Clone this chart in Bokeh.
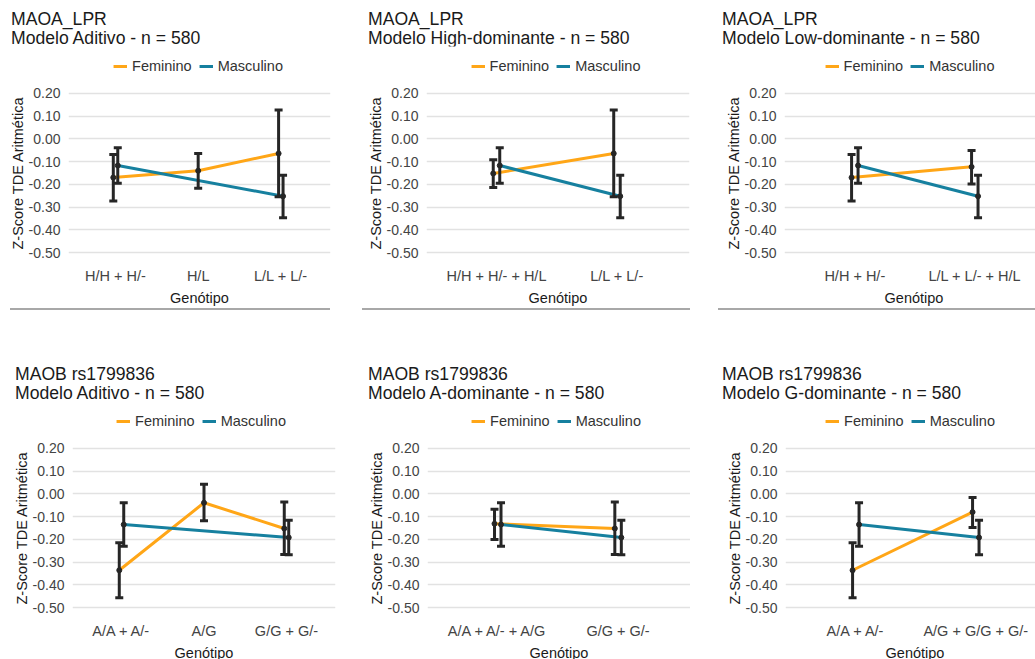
from bokeh.plotting import figure
from bokeh.models import (Range1d, FixedTicker, PrintfTickFormatter, Legend,
                          LegendItem, Div)
from bokeh.layouts import row, column
from bokeh.embed import file_html
from bokeh.resources import INLINE

# ---------------------------------------------------------------- data
y_ticks = [0.20, 0.10, 0.00, -0.10, -0.20, -0.30, -0.40, -0.50]
y_title = "Z-Score TDE Aritmética"
x_title = "Genótipo"
sexos = ["Feminino", "Masculino"]

# MAOA_LPR - modelo aditivo
maoa_adit_gen = ["H/H + H/-", "H/L", "L/L + L/-"]
maoa_adit_fem_media = [-0.170, -0.140, -0.064]
maoa_adit_fem_inf = [-0.273, -0.217, -0.255]
maoa_adit_fem_sup = [-0.069, -0.064, 0.127]
maoa_adit_masc_gen = ["H/H + H/-", "L/L + L/-"]
maoa_adit_masc_media = [-0.117, -0.252]
maoa_adit_masc_inf = [-0.195, -0.347]
maoa_adit_masc_sup = [-0.039, -0.160]

# MAOA_LPR - modelo high-dominante
maoa_high_gen = ["H/H + H/- + H/L", "L/L + L/-"]
maoa_high_fem_media = [-0.152, -0.064]
maoa_high_fem_inf = [-0.214, -0.255]
maoa_high_fem_sup = [-0.092, 0.127]
maoa_high_masc_gen = ["H/H + H/- + H/L", "L/L + L/-"]
maoa_high_masc_media = [-0.117, -0.252]
maoa_high_masc_inf = [-0.195, -0.347]
maoa_high_masc_sup = [-0.039, -0.160]

# MAOA_LPR - modelo low-dominante
maoa_low_gen = ["H/H + H/-", "L/L + L/- + H/L"]
maoa_low_fem_media = [-0.170, -0.123]
maoa_low_fem_inf = [-0.273, -0.198]
maoa_low_fem_sup = [-0.069, -0.051]
maoa_low_masc_gen = ["H/H + H/-", "L/L + L/- + H/L"]
maoa_low_masc_media = [-0.117, -0.252]
maoa_low_masc_inf = [-0.195, -0.347]
maoa_low_masc_sup = [-0.039, -0.160]

# MAOB rs1799836 - modelo aditivo
maob_adit_gen = ["A/A + A/-", "A/G", "G/G + G/-"]
maob_adit_fem_media = [-0.336, -0.039, -0.152]
maob_adit_fem_inf = [-0.457, -0.118, -0.267]
maob_adit_fem_sup = [-0.215, 0.043, -0.036]
maob_adit_masc_gen = ["A/A + A/-", "G/G + G/-"]
maob_adit_masc_media = [-0.135, -0.192]
maob_adit_masc_inf = [-0.230, -0.268]
maob_adit_masc_sup = [-0.039, -0.116]

# MAOB rs1799836 - modelo A-dominante
maob_adom_gen = ["A/A + A/- + A/G", "G/G + G/-"]
maob_adom_fem_media = [-0.131, -0.152]
maob_adom_fem_inf = [-0.201, -0.267]
maob_adom_fem_sup = [-0.067, -0.036]
maob_adom_masc_gen = ["A/A + A/- + A/G", "G/G + G/-"]
maob_adom_masc_media = [-0.135, -0.192]
maob_adom_masc_inf = [-0.230, -0.268]
maob_adom_masc_sup = [-0.039, -0.116]

# MAOB rs1799836 - modelo G-dominante
maob_gdom_gen = ["A/A + A/-", "A/G + G/G + G/-"]
maob_gdom_fem_media = [-0.336, -0.080]
maob_gdom_fem_inf = [-0.457, -0.148]
maob_gdom_fem_sup = [-0.215, -0.016]
maob_gdom_masc_gen = ["A/A + A/-", "A/G + G/G + G/-"]
maob_gdom_masc_media = [-0.135, -0.192]
maob_gdom_masc_inf = [-0.230, -0.268]
maob_gdom_masc_sup = [-0.039, -0.116]

paineis = [
    dict(gene="MAOA_LPR", modelo="Modelo Aditivo - n = 580", gen=maoa_adit_gen,
         fem=(maoa_adit_fem_media, maoa_adit_fem_inf, maoa_adit_fem_sup),
         masc_gen=maoa_adit_masc_gen,
         masc=(maoa_adit_masc_media, maoa_adit_masc_inf, maoa_adit_masc_sup)),
    dict(gene="MAOA_LPR", modelo="Modelo High-dominante - n = 580", gen=maoa_high_gen,
         fem=(maoa_high_fem_media, maoa_high_fem_inf, maoa_high_fem_sup),
         masc_gen=maoa_high_masc_gen,
         masc=(maoa_high_masc_media, maoa_high_masc_inf, maoa_high_masc_sup)),
    dict(gene="MAOA_LPR", modelo="Modelo Low-dominante - n = 580", gen=maoa_low_gen,
         fem=(maoa_low_fem_media, maoa_low_fem_inf, maoa_low_fem_sup),
         masc_gen=maoa_low_masc_gen,
         masc=(maoa_low_masc_media, maoa_low_masc_inf, maoa_low_masc_sup)),
    dict(gene="MAOB rs1799836", modelo="Modelo Aditivo - n = 580", gen=maob_adit_gen,
         fem=(maob_adit_fem_media, maob_adit_fem_inf, maob_adit_fem_sup),
         masc_gen=maob_adit_masc_gen,
         masc=(maob_adit_masc_media, maob_adit_masc_inf, maob_adit_masc_sup)),
    dict(gene="MAOB rs1799836", modelo="Modelo A-dominante - n = 580", gen=maob_adom_gen,
         fem=(maob_adom_fem_media, maob_adom_fem_inf, maob_adom_fem_sup),
         masc_gen=maob_adom_masc_gen,
         masc=(maob_adom_masc_media, maob_adom_masc_inf, maob_adom_masc_sup)),
    dict(gene="MAOB rs1799836", modelo="Modelo G-dominante - n = 580", gen=maob_gdom_gen,
         fem=(maob_gdom_fem_media, maob_gdom_fem_inf, maob_gdom_fem_sup),
         masc_gen=maob_gdom_masc_gen,
         masc=(maob_gdom_masc_media, maob_gdom_masc_inf, maob_gdom_masc_sup)),
]

# ---------------------------------------------------------------- style
FONT = "Liberation Sans"
COR_FEM = "#FFA617"
COR_MASC = "#16809F"
COR_BARRA = "#262626"
COR_GRADE = "#E2E2E2"
DODGE = 0.027

# frame placement of each panel (left, right in px, x range, legend shift)
geometria = [
    dict(fl=66, fr=328, x0=0.431, x1=3.601, tx=11, ls=2, sep=(10, 320)),
    dict(fl=77, fr=340, x0=0.419, x1=2.602, tx=23, ls=4, sep=(17, 328)),
    dict(fl=86, fr=345, x0=0.414, x1=2.5725, tx=32, ls=8, sep=(28, 317)),
    dict(fl=67, fr=330, x0=0.406, x1=3.594, tx=15, ls=5),
    dict(fl=77, fr=340, x0=0.416, x1=2.602, tx=23, ls=5),
    dict(fl=86, fr=345, x0=0.414, x1=2.5725, tx=32, ls=9),
]

LARG = 345
CAB = 46          # two-line heading
LEG_H = 39        # legend strip between heading and chart
FRAME_H = 175


def cabecalho(d, g):
    html = ('<div style="font-family:\'%s\';font-size:17.6px;line-height:19px;'
            'color:#1a1a1a;padding:10px 0 0 %dpx;white-space:nowrap">%s<br>%s</div>'
            % (FONT, g["tx"], d["gene"], d["modelo"]))
    return Div(text=html, width=LARG, height=CAB, margin=0)


def legenda(d, g):
    # strip whose frame spans the chart frame; the series sit outside its
    # ranges, so only the legend entries show
    q = figure(width=LARG, height=LEG_H, title=None,
               x_range=Range1d(10, 11), y_range=Range1d(10, 11),
               x_axis_type=None, y_axis_type=None,
               min_border_left=g["fl"] + g["ls"], min_border_right=LARG - g["fr"],
               min_border_top=0, min_border_bottom=0,
               output_backend="svg", toolbar_location=None)
    q.outline_line_color = None
    q.background_fill_color = "white"
    q.border_fill_color = "white"
    gen = d["gen"]
    rf = q.line(list(range(1, len(gen) + 1)), d["fem"][0],
                line_color=COR_FEM, line_width=3)
    rm = q.line([gen.index(k) + 1 for k in d["masc_gen"]], d["masc"][0],
                line_color=COR_MASC, line_width=3)
    leg = Legend(items=[LegendItem(label=sexos[0], renderers=[rf]),
                        LegendItem(label=sexos[1], renderers=[rm])],
                 orientation="horizontal", location="center",
                 glyph_width=14, glyph_height=20, label_height=20,
                 label_standoff=5, spacing=7, padding=0, margin=0,
                 border_line_color=None, background_fill_alpha=0,
                 label_text_font=FONT, label_text_font_size="14.5px",
                 label_text_color="#333333")
    q.add_layout(leg)
    return q


def painel(d, g, borda_inf):
    p = figure(frame_width=g["fr"] - g["fl"], frame_height=FRAME_H, title=None,
               x_range=Range1d(g["x0"], g["x1"]), y_range=Range1d(-0.535, 0.235),
               output_backend="svg", toolbar_location=None,
               min_border_left=g["fl"], min_border_right=LARG - g["fr"],
               min_border_top=0, min_border_bottom=borda_inf)
    p.background_fill_color = "white"
    p.border_fill_color = "white"
    p.outline_line_color = None

    gen = d["gen"]
    pos = {k: i + 1 for i, k in enumerate(gen)}
    fx = [pos[k] - DODGE if k in d["masc_gen"] else pos[k] for k in gen]
    mx = [pos[k] + DODGE for k in d["masc_gen"]]

    f_media, f_inf, f_sup = d["fem"]
    m_media, m_inf, m_sup = d["masc"]

    p.line(fx, f_media, line_color=COR_FEM, line_width=3)
    p.line(mx, m_media, line_color=COR_MASC, line_width=3)

    for xs, med, lo, hi in ((fx, f_media, f_inf, f_sup), (mx, m_media, m_inf, m_sup)):
        p.segment(x0=xs, y0=lo, x1=xs, y1=hi, line_color=COR_BARRA, line_width=3)
        p.scatter(x=xs + xs, y=lo + hi, marker="dash", size=8,
                  line_color=COR_BARRA, line_width=3)
        p.scatter(x=xs, y=med, marker="circle", size=5,
                  fill_color=COR_BARRA, line_color=COR_BARRA)

    # axes
    p.yaxis.ticker = FixedTicker(ticks=y_ticks)
    p.yaxis.formatter = PrintfTickFormatter(format="%.2f")
    p.xaxis.ticker = FixedTicker(ticks=list(range(1, len(gen) + 1)))
    p.xaxis.major_label_overrides = {i + 1: k for i, k in enumerate(gen)}
    p.yaxis.axis_label = y_title
    p.xaxis.axis_label = x_title
    for ax in (p.xaxis[0], p.yaxis[0]):
        ax.axis_line_color = None
        ax.major_tick_line_color = None
        ax.minor_tick_line_color = None
        ax.major_label_text_font = FONT
        ax.major_label_text_color = "#444444"
        ax.axis_label_text_font = FONT
        ax.axis_label_text_font_size = "14.5px"
        ax.axis_label_text_font_style = "normal"
        ax.axis_label_text_color = "#1a1a1a"
    p.yaxis.major_label_text_font_size = "14px"
    p.xaxis.major_label_text_font_size = "14.5px"
    p.yaxis.major_label_standoff = 2
    p.yaxis.axis_label_standoff = 0
    p.xaxis.major_label_standoff = 1
    p.xaxis.axis_label_standoff = 3
    p.xgrid.visible = False
    p.ygrid.grid_line_color = COR_GRADE
    p.ygrid.grid_line_width = 1.5
    return p


linha_topo = []
for d, g in zip(paineis[:3], geometria[:3]):
    esq, larg = g["sep"]
    sep = Div(text="", width=larg, height=2, margin=(0, 0, 45, esq),
              styles={"background-color": "#A8A8A8"})
    linha_topo.append(column(cabecalho(d, g), legenda(d, g),
                             painel(d, g, 48), sep))

linha_base = [column(cabecalho(d, g), legenda(d, g), painel(d, g, 44))
              for d, g in zip(paineis[3:], geometria[3:])]

layout = column(row(*linha_topo), row(*linha_base))

open("out.html", "w").write(file_html(layout, INLINE))
